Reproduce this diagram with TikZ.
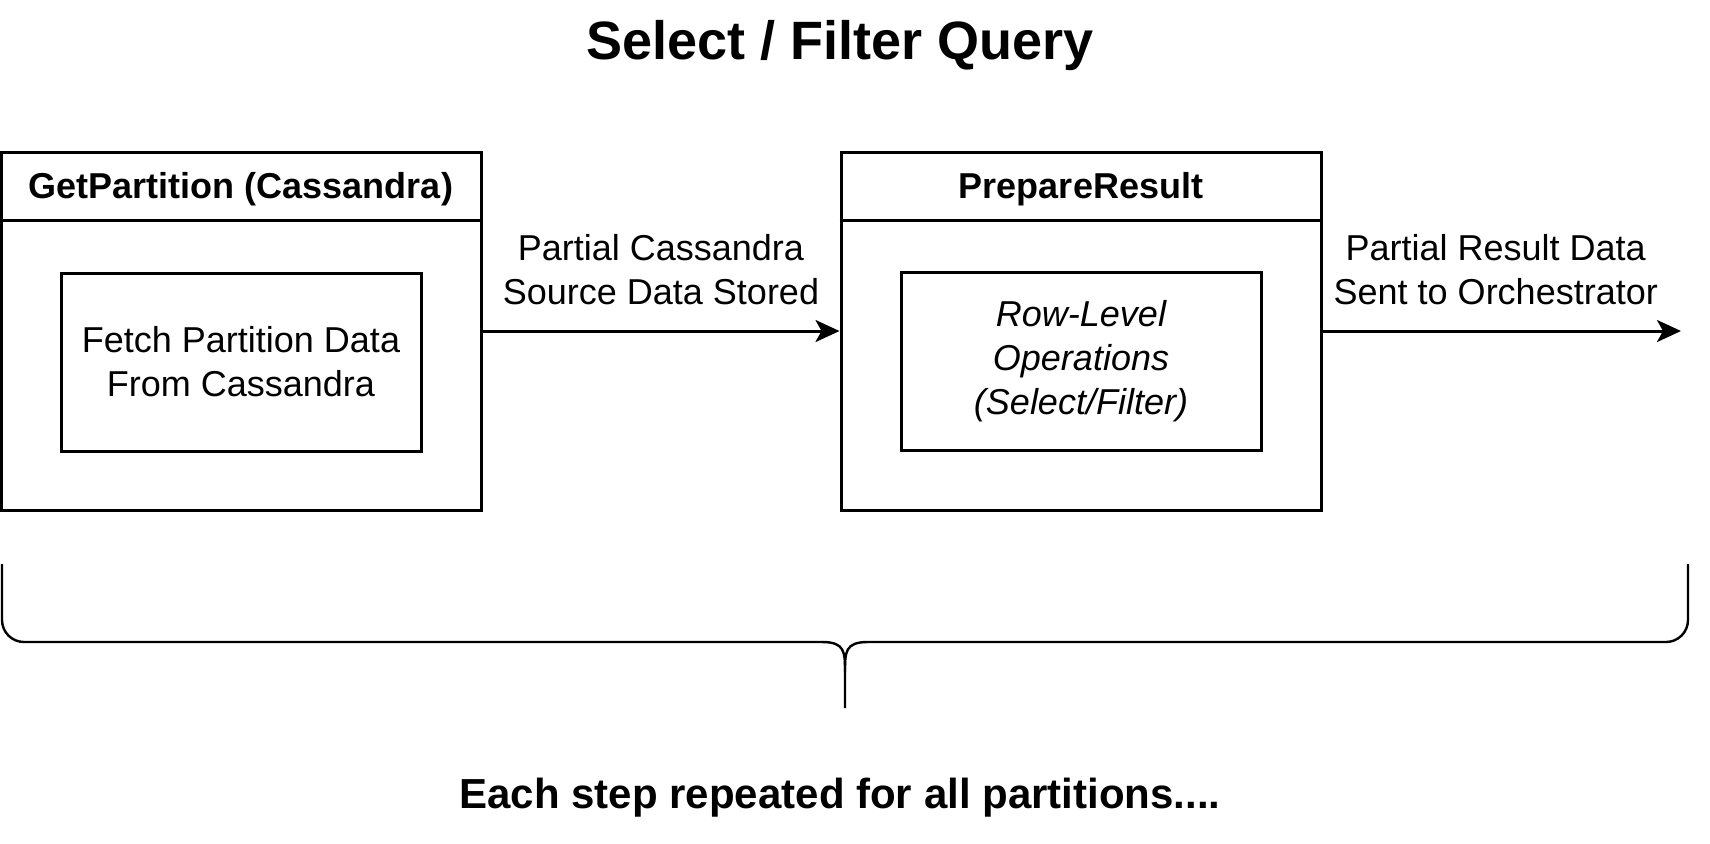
\documentclass[tikz,border=0pt]{standalone}
\usepackage{fontspec}
\setmainfont{Liberation Sans}
\usetikzlibrary{arrows.meta}
\usetikzlibrary{positioning}
\tikzset{>={Stealth[length=12pt,width=11pt,inset=3pt]}, line join=miter}
\tikzset{stage/.style={draw, line width=1.5pt, minimum width=240pt, minimum height=179pt, inner sep=0pt},
         task/.style={draw, line width=1.5pt, minimum width=180pt, minimum height=89pt, inner sep=0pt, align=center, font=\fontsize{18}{22}\selectfont},
         head/.style={font=\fontsize{18}{22}\selectfont\bfseries},
         note/.style={align=center, font=\fontsize{18}{22}\selectfont}}

\begin{document}
\begin{tikzpicture}[x=0.5pt,y=-0.5pt]
%%
\useasboundingbox (0,0) rectangle (1710,843);
\node (title) at (840,46) [font=\fontsize{27}{32}\selectfont\bfseries] {Select / Filter Query};
%
\node (getpart) at (241,331) [stage] {};
  \node (getpart_h) at (241,189) [head] {GetPartition (Cassandra)};
  \draw [line width=1.5pt] (getpart.west |- 0,220) -- (getpart.east |- 0,220);
  \node (fetch) at (241,362) [task] {Fetch Partition Data\\From Cassandra};
\node (prepres) at (1081,331) [stage] {};
  \node (prepres_h) at (1081,189) [head] {PrepareResult};
  \draw [line width=1.5pt] (prepres.west |- 0,220) -- (prepres.east |- 0,220);
  \node (rowops) at (1081,361) [task, font=\fontsize{18}{22}\selectfont\itshape] {Row-Level\\Operations\\(Select/Filter)};
\coordinate (out) at (1681,331);
%
  \draw [->, line width=1.5pt] (getpart) -- (prepres) node [midway, above=9pt, note] {Partial Cassandra\\Source Data Stored};
  \draw [->, line width=1.5pt] (prepres) -- (out) node [midway, above=9pt, xshift=-3pt, note] {Partial Result Data\\Sent to Orchestrator};
%
  \draw [line width=1.2pt, rounded corners=11pt] (2,564) -- (2,642) -- (822,642);
  \draw [line width=1.2pt] (822,642) .. controls (845,642) and (845,652) .. (845,672) -- (845,708);
  \draw [line width=1.2pt] (845,672) .. controls (845,652) and (845,642) .. (868,642);
  \draw [line width=1.2pt, rounded corners=11pt] (868,642) -- (1688,642) -- (1688,564);
\node (repeat) at (840,798) [font=\fontsize{21}{25}\selectfont\bfseries] {Each step repeated for all partitions....};
%
\end{tikzpicture}
\end{document}
